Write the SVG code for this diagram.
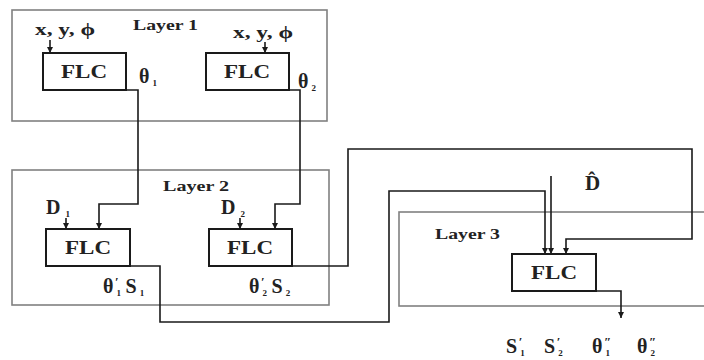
<svg xmlns="http://www.w3.org/2000/svg" width="704" height="360" viewBox="0 0 704 360">
<style>
.layer{fill:none;stroke:#808080;stroke-width:1.6}
.flc{fill:#fff;stroke:#1a1a1a;stroke-width:2}
.c{fill:none;stroke:#1a1a1a;stroke-width:1.6}
.t{font-family:"Liberation Serif","Times New Roman",serif;font-weight:bold;fill:#222}
.fl{font-size:19px;text-anchor:middle}
.ly{font-size:15px}
.lb{font-size:20px}
.sub{font-size:9px}
.pr{font-size:13px}
</style>
<defs>
<marker id="ah" viewBox="0 0 6 6" refX="6" refY="3" markerWidth="6" markerHeight="6" markerUnits="userSpaceOnUse" orient="auto">
<path d="M0,0 L6,3 L0,6 z" fill="#1a1a1a"/>
</marker>
</defs>
<rect fill="#fff" width="704" height="360"/>
<g id="layers">
<g id="layer1"><rect class="layer" x="12" y="10" width="315" height="111"/><text class="t ly" x="133" y="30" textLength="65" lengthAdjust="spacingAndGlyphs">Layer 1</text></g>
<g id="layer2"><rect class="layer" x="12" y="170" width="317" height="135"/><text class="t ly" x="163" y="191" textLength="66" lengthAdjust="spacingAndGlyphs">Layer 2</text></g>
<g id="layer3"><rect class="layer" x="399" y="212" width="320" height="94"/><text class="t ly" x="435" y="239" textLength="65" lengthAdjust="spacingAndGlyphs">Layer 3</text></g>
</g>
<g id="connectors">
<path class="c" d="M126,90 H138 V204 H99 V229" marker-end="url(#ah)"/>
<path class="c" d="M289,90 H300 V204 H275 V229" marker-end="url(#ah)"/>
<path class="c" d="M130,266 H160 V322 H389 V191 H545 V254" marker-end="url(#ah)"/>
<path class="c" d="M292,266 H348 V149 H692 V239 H566 V254" marker-end="url(#ah)"/>
<path class="c" d="M551,176 V254" marker-end="url(#ah)"/>
<path class="c" d="M596,291 H621 V318" marker-end="url(#ah)"/>
<path class="c" d="M50,40 V53" marker-end="url(#ah)"/>
<path class="c" d="M265,42 V53" marker-end="url(#ah)"/>
<path class="c" d="M66,218 V229" marker-end="url(#ah)"/>
<path class="c" d="M240,218 V229" marker-end="url(#ah)"/>
</g>
<g id="flc1"><rect class="flc" x="43" y="53" width="83" height="37"/><text class="t fl" x="84" y="78" textLength="46" lengthAdjust="spacingAndGlyphs">FLC</text></g>
<g id="flc2"><rect class="flc" x="206" y="53" width="83" height="37"/><text class="t fl" x="247" y="78" textLength="46" lengthAdjust="spacingAndGlyphs">FLC</text></g>
<g id="flc3"><rect class="flc" x="46" y="229" width="84" height="37"/><text class="t fl" x="88" y="254" textLength="46" lengthAdjust="spacingAndGlyphs">FLC</text></g>
<g id="flc4"><rect class="flc" x="209" y="229" width="83" height="37"/><text class="t fl" x="250" y="254" textLength="46" lengthAdjust="spacingAndGlyphs">FLC</text></g>
<g id="flc5"><rect class="flc" x="512" y="254" width="84" height="37"/><text class="t fl" x="554" y="279" textLength="46" lengthAdjust="spacingAndGlyphs">FLC</text></g>
<g id="labels">
<text class="t" style="font-size:17px" x="35" y="35" textLength="60" lengthAdjust="spacingAndGlyphs">x, y, ϕ</text>
<text class="t" style="font-size:17px" x="233" y="38" textLength="60" lengthAdjust="spacingAndGlyphs">x, y, ϕ</text>
<text class="t lb" x="139" y="83">θ<tspan class="sub" dx="3" dy="3">1</tspan></text>
<text class="t lb" x="298" y="88">θ<tspan class="sub" dx="3" dy="3">2</tspan></text>
<text class="t lb" x="46" y="214">D<tspan class="sub" dx="5" dy="3">1</tspan></text>
<text class="t lb" x="221" y="214">D<tspan class="sub" dx="5" dy="3">2</tspan></text>
<text class="t lb" x="103" y="293">θ<tspan class="sub" dx="3" dy="3">1</tspan><tspan class="pr" dx="-6" dy="-10">′</tspan><tspan dx="7" dy="7">S</tspan><tspan class="sub" dx="3" dy="3">1</tspan></text>
<text class="t lb" x="249" y="293">θ<tspan class="sub" dx="3" dy="3">2</tspan><tspan class="pr" dx="-6" dy="-10">′</tspan><tspan dx="7" dy="7">S</tspan><tspan class="sub" dx="3" dy="3">2</tspan></text>
<text class="t" x="585" y="190" style="font-size:21px">D̂</text>
<text class="t lb" x="506" y="353">S<tspan class="sub" dx="3" dy="3">1</tspan><tspan class="pr" dx="-6" dy="-10">′</tspan></text>
<text class="t lb" x="544" y="353">S<tspan class="sub" dx="3" dy="3">2</tspan><tspan class="pr" dx="-6" dy="-10">′</tspan></text>
<text class="t lb" x="592" y="353">θ<tspan class="sub" dx="3" dy="3">1</tspan><tspan class="pr" dx="-6" dy="-10">″</tspan></text>
<text class="t lb" x="637" y="353">θ<tspan class="sub" dx="3" dy="3">2</tspan><tspan class="pr" dx="-6" dy="-10">″</tspan></text>
</g>
</svg>
